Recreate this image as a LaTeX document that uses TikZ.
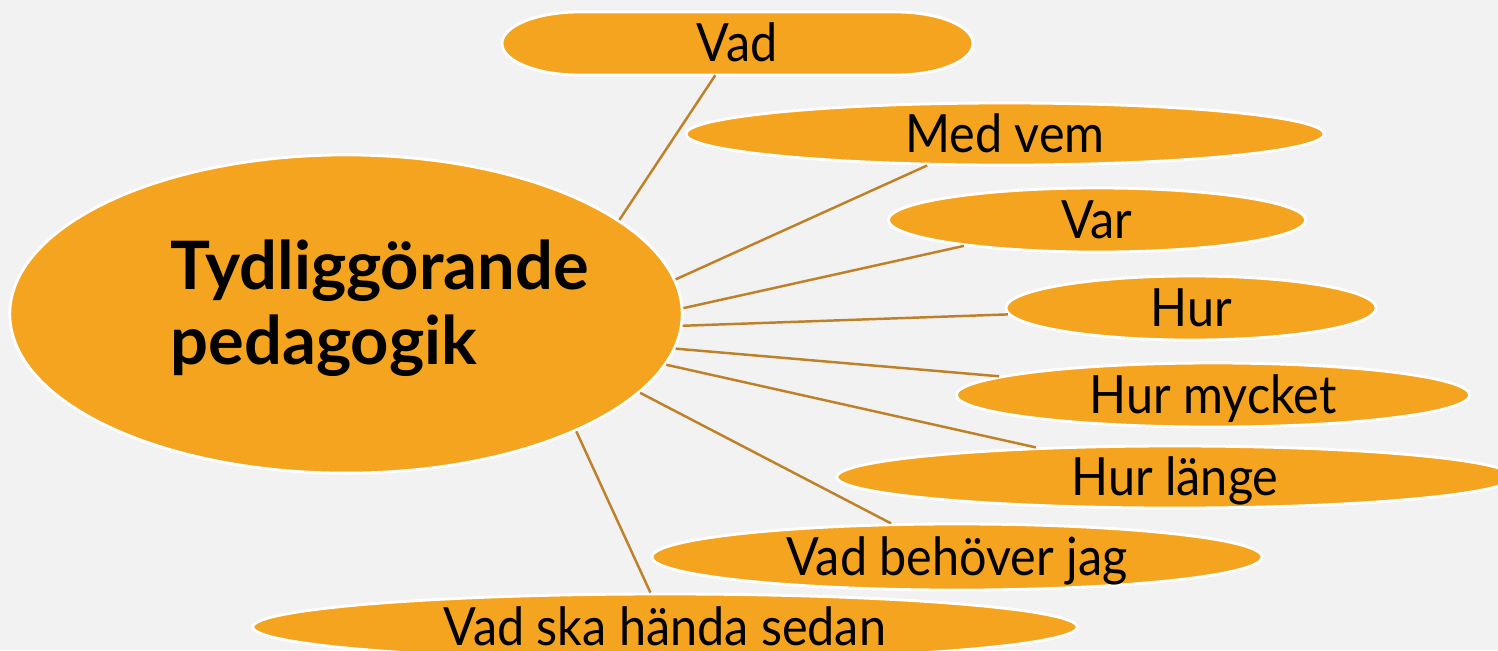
\documentclass[tikz,border=0pt]{standalone}
\usepackage{fontspec}
\setmainfont{Lato}[FakeStretch=0.92]
\newfontfamily\hubfont{Lato}
\usetikzlibrary{shapes.geometric}
\definecolor{bg}{HTML}{F2F2F2}
\definecolor{petal}{HTML}{F5A420}
\definecolor{stem}{HTML}{BF8128}
\tikzset{
  hub/.style = {ellipse, fill=petal, draw=white, line width=0.8pt, minimum width=6.72cm, minimum height=3.18cm},
  leaf/.style = {ellipse, fill=petal, draw=white, line width=0.8pt, inner sep=0pt, font=\fontsize{15}{18}\selectfont, text height=0.37cm, text depth=0pt},
  pill/.style = {fill=petal, draw=white, line width=0.8pt},
  link/.style = {draw=stem, line width=0.7pt},
}
\begin{document}
\begin{tikzpicture}[x=0.01cm, y=0.01cm]

  \fill [bg] (0,0) rectangle (1498,650);
  \clip (0,0) rectangle (1498,650);

  % the top one has flat sides
  \filldraw [pill] (579,638) -- (896,638) arc[start angle=90, end angle=-90, x radius=77, y radius=31.5]
    -- (579,575) arc[start angle=270, end angle=90, x radius=77, y radius=31.5] -- cycle;
  \node (vad) [rectangle, minimum width=4.71cm, minimum height=0.63cm, font=\fontsize{15}{18}\selectfont, text height=0.37cm, text depth=0pt] at (737,607) {Vad};

  \node (main) [hub] at (346,336) {};
  \node (title) [anchor=west, align=left, inner sep=0pt, font=\hubfont\bfseries\fontsize{19}{21.3}\selectfont] at (170,342) {Tydliggörande\\pedagogik};

  \node (medvem) [leaf, minimum width=6.38cm, minimum height=0.62cm] at (1005,516) {Med vem};
  \node (var) [leaf, minimum width=4.17cm, minimum height=0.64cm] at (1097,430) {Var};
  \node (hur) [leaf, minimum width=3.70cm, minimum height=0.64cm] at (1191,342) {Hur};
  \node (hurmycket) [leaf, minimum width=5.13cm, minimum height=0.64cm] at (1213,255) {Hur mycket};
  \node (hurlange) [leaf, minimum width=6.76cm, minimum height=0.62cm] at (1175,173) {Hur länge};
  \node (behover) [leaf, minimum width=6.10cm, minimum height=0.66cm] at (957,93) {Vad behöver jag};
  \node (sedan) [leaf, minimum width=8.24cm, minimum height=0.66cm] at (665,23) {Vad ska hända sedan};

  \draw [link] (main.19.5) -- (vad.236);
  \draw [link] (main.6.8) -- (medvem.202);
  \draw [link] (main.1.5) -- (var.191);
  \draw [link] (main.-2.4) -- (hur.182);
  \draw [link] (main.-6) -- (hurmycket.175);
  \draw [link] (main.-9.4) -- (hurlange.168);
  \draw [link] (main.-15) -- (behover.153);
  \draw [link] (main.-27) -- (sedan.113);

\end{tikzpicture}
\end{document}
